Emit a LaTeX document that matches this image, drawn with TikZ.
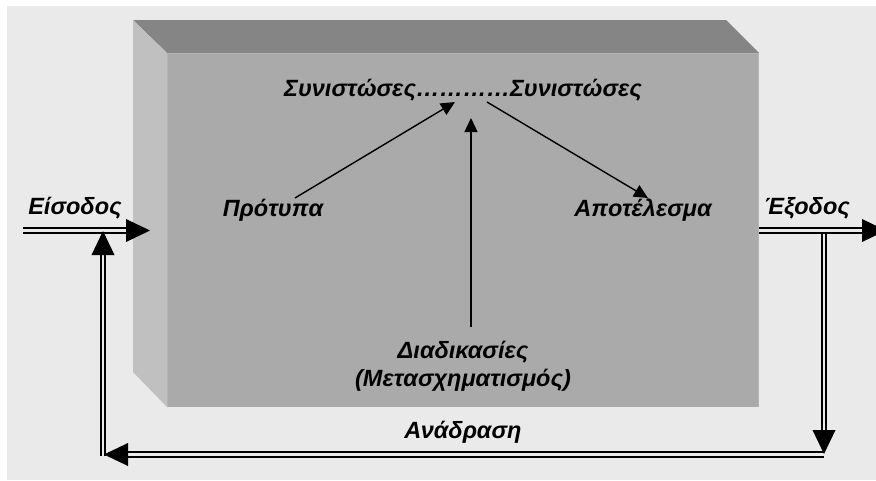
\documentclass[tikz,border=0pt]{standalone}
\usepackage{fontspec}
\setmainfont{Liberation Sans}
\usetikzlibrary{arrows.meta}
\definecolor{bgc}{HTML}{EAEAEA}
\definecolor{topc}{HTML}{858585}
\definecolor{leftc}{HTML}{C0C0C0}
\definecolor{frontc}{HTML}{AAAAAA}
\definecolor{edgec}{HTML}{B4B4B4}
\tikzset{
  lbl/.style={font=\fontsize{23.5}{28}\selectfont\bfseries\itshape, inner sep=0pt, anchor=center},
  thin arrow/.style={line width=1.4pt, -{Triangle[length=14pt,width=13pt]}},
  dline/.style={line width=2pt, double=bgc, double distance=2.4pt},
  head/.style={fill=black}
}
\begin{document}
\begin{tikzpicture}[x=1pt,y=-1pt]
\useasboundingbox (0,0) rectangle (876,480);
\fill[white] (0,0) rectangle (876,480);
\fill[bgc] (7,6) rectangle (876,480);
% box
\fill[topc] (133,20) -- (726,20) -- (759,53) -- (167,53) -- cycle;
\fill[leftc] (133,20) -- (167,53) -- (167,407) -- (133,372) -- cycle;
\fill[frontc] (167,53) rectangle (759,407);
\draw[edgec, line width=1pt] (167.5,407) -- (167.5,53.5) -- (758.5,53.5) -- (758.5,407);
% labels
\node[lbl] (in) at (75,208) {Είσοδος};
\node[lbl] (out) at (807,208) {Έξοδος};
\node[lbl] (comp) at (463,90) {Συνιστώσες…………Συνιστώσες};
\node[lbl] (prot) at (273,210) {Πρότυπα};
\node[lbl] (apot) at (643,210) {Αποτέλεσμα};
\node[lbl, align=center] (diad) at (463,366) {Διαδικασίες\\(Μετασχηματισμός)};
\node[lbl] (fb) at (463,432) {Ανάδραση};
% inner arrows
\coordinate (p1) at (295,198);
\coordinate (p2) at (455,102);
\coordinate (q1) at (471,327);
\coordinate (q2) at (471,118);
\coordinate (r1) at (487,102);
\coordinate (r2) at (648,198);
\draw[thin arrow] (p1) -- (p2);
\draw[thin arrow] (q1) -- (q2);
\draw[thin arrow] (r1) -- (r2);
% double connectors
\coordinate (inA) at (23,230.5);
\coordinate (inB) at (127,230.5);
\coordinate (outA) at (759,230.5);
\coordinate (outB) at (863,230.5);
\coordinate (dnA) at (824,233.5);
\coordinate (dnB) at (824,431);
\coordinate (btA) at (824,454.5);
\coordinate (btB) at (127,454.5);
\coordinate (upA) at (103,456);
\coordinate (upB) at (103,254);
\draw[dline] (inA) -- (inB);
\draw[dline] (outA) -- (outB);
\draw[dline] (dnA) -- (dnB);
\draw[dline] (btA) -- (btB);
\draw[dline] (upA) -- (upB);
% heads
\fill[head] (126,219) -- (150,230.5) -- (126,242) -- cycle;
\fill[head] (862,219) -- (886,230.5) -- (862,242) -- cycle;
\fill[head] (812.5,430) -- (824,454) -- (835.5,430) -- cycle;
\fill[head] (128,443) -- (104,454.5) -- (128,466) -- cycle;
\fill[head] (91.5,255) -- (103,231) -- (114.5,255) -- cycle;
\end{tikzpicture}
\end{document}
